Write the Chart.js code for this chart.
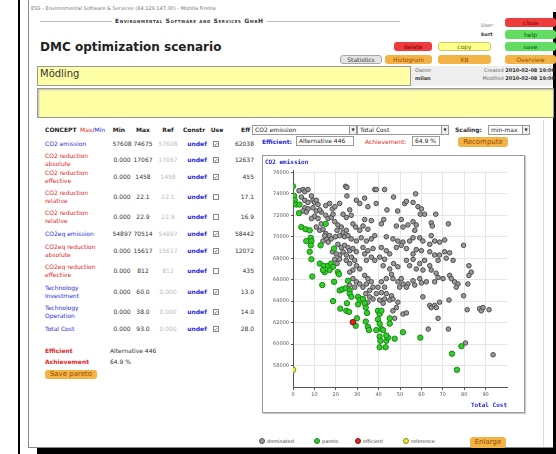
<!DOCTYPE html>
<html>
<head>
<meta charset="utf-8">
<title>DMC optimization scenario</title>
<script src="https://cdn.jsdelivr.net/npm/chart.js@4.4.0/dist/chart.umd.min.js"></script>
<style>
body { margin: 0; width: 556px; height: 454px; background: #fff; position: relative; overflow: hidden; font-family: "DejaVu Sans", sans-serif; }
.a { position: absolute; white-space: nowrap; }
.btn { position: absolute; height: 9px; border-radius: 3px; font-size: 6px; line-height: 9px; text-align: center; }
.red { background: #ee3b3b; color: #7a0000; }
.green { background: #62dc62; color: #005a00; }
.yellow { background: #ffff8c; color: #666600; border: 1px solid #cccc66; height: 7px; line-height: 7px; }
.orange { background: #f2b347; color: #9a4a00; }
.grey { background: #e4e4e4; color: #333; border: 1px solid #aaa; height: 7px; line-height: 7px; }
.sm { font-size: 6px; }
.tiny { font-size: 5px; color: #666; }
.sel { position: absolute; height: 8px; border: 1px solid #999; background: #fff; font-size: 6px; line-height: 8px; padding-left: 2px; color: #222; }
.sel span { position: absolute; right: 0; top: 0; width: 6px; height: 8px; border-left: 1px solid #999; background: #eee; font-size: 4px; text-align: center; }
.inp { position: absolute; height: 8px; border: 1px solid #999; background: #fff; font-size: 6px; line-height: 8px; padding-left: 2px; color: #222; }
.cb { position: absolute; width: 4px; height: 4px; border: 1px solid #888; background: #fff; font-size: 5px; line-height: 4px; color: #333; text-align: center; }
.dot { position: absolute; width: 4px; height: 4px; border-radius: 50%; }
#frame { position: absolute; left: 262px; top: 155px; width: 261px; height: 256px; border: 1px solid #9a9a9a; box-shadow: 1px 1px 1px #ccc; }
</style>
</head>
<body>

<!-- scatter values: [Total Cost, CO2 emission] -->
<script>
var costTicks = [0, 10, 20, 30, 40, 50, 60, 70, 80, 90];
var emissionTicks = [58000, 60000, 62000, 64000, 66000, 68000, 70000, 72000, 74000, 76000];

var dominated = [
  [2.8,74300],[4.7,74400],[5.5,74200],[7,74400],[24.6,74700],[25.2,74600],[38.2,74400],[38.9,74400],[42.8,74400],[57.3,74000],[25.2,73800],[47,73700],
  [8.6,73800],[9.3,73400],[10.1,73200],[10.9,73400],[11.7,73000],
  [3.9,73700],[5.5,73400],[7,73200],[5.5,72700],[7,72600],[4.7,72400],[6.2,72300],
  [29.6,73400],[31.2,73100],[35,72800],[38.9,73100],[33.5,73600],
  [52.2,73100],[53,73300],[56.1,73200],[58.4,72800],[60,72600],[59.5,72100],[61.5,72100],
  [43.9,72500],[48.9,72400],[66.7,72100],
  [15.3,72900],[17.1,73100],[18.4,72600],[19.6,72800],[21.8,73100],
  [13.2,72300],[15.3,72000],[16.4,71700],[17.9,71800],[18.7,72100],
  [26.5,72500],[24.9,71800],[27.2,72000],[23.4,72100],
  [33.5,71600],[36.6,71500],[41.3,71200],[42.4,71600],
  [50.6,71600],[48.3,71000],[51.4,70900],[53.7,71100],[56.1,71400],[57.6,71100],[56.9,70600],
  [64.6,71300],[65.1,71000],[72.6,71200],
  [28,71200],[29.3,70900],[32.7,71000],[31.2,70600],[35,70700],
  [19.5,71400],[21,71100],[22.6,70900],[20.6,70600],[23.4,70400],[24.9,70600],[21.8,70100],[24.1,70000],[25.7,70100],
  [15.3,70300],[17.1,70100],[17.9,69800],[15.6,69800],[19.9,70000],
  [27.2,69800],[29.6,69600],[31.9,69900],[34.3,69600],[36.6,69800],[38.2,70100],
  [43.6,70000],[46.7,69800],[49,69600],[51.4,69500],[54.5,69600],[56.1,69900],[59.2,69900],[60.7,69600],
  [64.6,70100],[66.2,69600],[68.5,69500],[70.9,69700],[63.9,69300],[79.7,69200],
  [48.3,69000],[50.6,69200],[53,68900],[57.6,68800],[60,68700],[56.1,68400],
  [41.3,69000],[43.6,68700],[45.2,68400],[42.8,67900],[40.5,68100],
  [32.7,69000],[35,68700],[37.4,68900],[33.5,68400],[36.6,68100],[38.2,67800],[34.3,67800],
  [21,69300],[22.6,69000],[24.1,69200],[25.7,69000],[26.5,68700],[28,68900],[29.6,68600],[23.4,68600],[24.9,68300],
  [27.3,68100],[21.8,68300],[28.8,67800],[24.9,67800],[26.5,67500],[29.6,67300],[31.2,67000],[28,66900],[26.5,66700],
  [63.9,68600],[66.2,68300],[68.5,68300],[70.9,68600],[73.2,68500],[74.8,67800],[71.6,68000],[67.8,67800],
  [53,67800],[56.1,67900],[59.2,67500],[61.5,67800],[63.9,67300],[54.5,67300],[57.6,67000],[60.7,66900],[64.6,66900],[66.9,66600],
  [47,67500],[49,67200],[45.2,67000],[42.1,67300],
  [82.2,67300],[83.3,66700],[82.2,66400],
  [73.2,66400],[74,66100],[75.5,65800],[77.1,65600],[76.3,65300],
  [67.8,66200],[70.1,66100],[66.2,65800],
  [59.2,66100],[56.1,65900],[53.7,65600],[56.9,65500],[60,65700],[62.3,65800],
  [50.6,66100],[49,65800],[51.4,65600],[49.8,65300],[53,65300],
  [46,66500],[46.7,66100],[43.6,66100],[41.3,65800],[42.8,65300],[39.7,65300],
  [33.5,66400],[35,66100],[36.6,65800],[34.3,65600],[32.7,65300],[37.4,65300],[35.8,65000],
  [28,66100],[29.6,65800],[28.8,65300],[31.2,65600],[26.5,65500],
  [38.9,64700],[41.3,64800],[43.6,64700],[46,64500],[42.8,64200],[40.5,64100],[42.1,63800],[45.2,64100],[46.7,64200],
  [34,64700],[35.8,64400],[37.4,64200],[35,63900],[33.5,63800],
  [49,63900],[48.3,63400],[46.7,63100],[51.4,62800],[53,62900],[47.5,62400],
  [60.7,64400],[63.9,63600],[64.6,63400],[66.2,63600],[67,63400],[68.5,63900],
  [81.4,63200],[87.2,63300],[88,63100],[88.8,63400],[91.6,63200],
  [72.9,64100],[79.7,64500],[81.7,65600],[67.8,62400],[63.2,61400],[72.6,61400],[80.6,60100],[93.5,59000],
  [9.3,72700],[10.9,72400],[12.5,72500],[10.1,71900],[11.7,71700],[8.6,71700],[13.2,71200],[10.9,70900],[12.5,70600],[14,70700],
  [14.8,70100],[14,69600],[16.4,69500],
  [18.4,68600],[20.2,68400],[21.8,67900],[19.5,67900],[20.6,67500]
];

var pareto = [
  [0,74700],[0.5,73800],[0.8,73400],[0,73100],[1.5,73000],[3,73000],[2.8,72200],[3.9,70900],[5.9,70700],[7.8,70600],
  [8.3,69900],[8.6,69600],[8.3,69200],[6.2,69600],[7.8,68600],[8.6,67900],[12.9,69200],[15.3,71200],[19.2,68900],
  [12.5,67500],[14.3,67300],[16.4,67300],[17.9,67500],[18.7,67200],[17.1,66900],[14.8,66700],[14,66900],
  [9,66300],[13.7,65500],[19.2,65800],[21,66700],[21.5,66500],[18.7,64000],[21.8,65000],[23,65100],[24.6,65200],
  [25.7,65900],[26.5,65000],[26.5,64700],[27.3,64400],[25.2,63800],[24.9,63100],[26.2,63000],[22.1,63300],
  [30.4,64400],[31.2,64100],[30.4,63700],[32.7,64200],[33.5,63800],[34,63400],[34.6,62900],[29.9,62400],[29.3,61700],
  [34,62100],[35,61600],[35.5,61300],[39.7,63100],[40.5,62800],[41.3,63100],[39.7,62300],[40.5,61900],[38.9,61300],
  [41.3,61400],[42.1,61300],[40.5,60700],[40.8,60300],[40.5,59700],[43.3,59700],[43.6,60300],[44.4,60600],[43.6,60800],
  [45.2,61900],[45.2,62400],[47.5,60500],[51.4,61100],[59.5,60600],[74.3,59100],[76.6,57600],[78.7,59800]
];

var efficient = [[28, 62038]];
var reference = [[0, 57608]];
</script>

<!-- outer frame -->
<div class="a" style="left:18px;top:0;width:2px;height:454px;background:#000"></div>
<div class="a" style="left:553px;top:12px;width:3px;height:442px;background:#000"></div>
<div class="a" style="left:37px;top:448px;width:519px;height:6px;background:#000"></div>
<div class="a" style="left:28px;top:0;width:1px;height:448px;background:#888"></div>
<div class="a" style="left:28px;top:447px;width:525px;height:1px;background:#888"></div>

<!-- window title + header -->
<div class="a tiny" style="left:31px;top:5px;color:#777">ESS - Environmental Software &amp; Services (84.129.147.30) - Mozilla Firefox</div>
<div class="a" style="left:40px;top:21px;width:360px;height:1px;background:#bbb"></div>
<div class="a" style="left:112px;top:17px;padding:0 3px;background:#fff;font-size:6px;font-weight:bold;font-variant:small-caps;letter-spacing:0.6px;color:#333">Environmental Software and Services GmbH</div>
<div class="a tiny" style="left:481px;top:22px">User:</div>
<div class="a" style="left:481px;top:31px;font-size:5px;font-weight:bold;color:#333">kurt</div>
<div class="btn red" style="left:505px;top:18px;width:51px">close</div>
<div class="btn green" style="left:505px;top:30px;width:51px">help</div>
<div class="btn green" style="left:505px;top:42px;width:51px">save</div>
<div class="btn yellow" style="left:438px;top:42px;width:51px">copy</div>
<div class="btn red" style="left:394px;top:42px;width:38px">delete</div>
<div class="a" style="left:40px;top:40px;font-size:12px;font-weight:bold;color:#222">DMC optimization scenario</div>
<div class="btn grey" style="left:340px;top:55px;width:40px">Statistics</div>
<div class="btn orange" style="left:385px;top:55px;width:47px">Histogram</div>
<div class="btn orange" style="left:438px;top:55px;width:53px">KB</div>
<div class="btn orange" style="left:505px;top:55px;width:51px">Overview</div>

<div class="a" style="left:37px;top:66px;width:372px;height:18px;background:#ffffa6;border:1px solid #999"></div>
<div class="a" style="left:40px;top:68px;font-size:10px;color:#333">Mödling</div>
<div class="a" style="left:411px;top:66px;width:142px;height:20px;background:#eee"></div>
<div class="a tiny" style="left:415px;top:67px">Owner</div>
<div class="a" style="left:415px;top:75px;font-size:5px;font-weight:bold;color:#333">milan</div>
<div class="a tiny" style="left:470px;top:67px;width:85px;text-align:right">Created <b style="color:#333">2010-02-08 19:00</b></div>
<div class="a tiny" style="left:470px;top:75px;width:85px;text-align:right">Modified <b style="color:#333">2010-02-08 19:00</b></div>
<div class="a" style="left:37px;top:88px;width:515px;height:28px;background:#ffffa6;border:1px solid #999;box-shadow:inset 1px 1px 2px #bbb"></div>
<div class="a" style="left:543px;top:120px;width:1px;height:327px;background:#ddd"></div>

<!-- concept table -->
<div id="table"></div>
<script>
var table = document.getElementById('table');
var blue = '#2a2ad8', red = '#e02828';

function cell(left, top, width, align, text, style) {
    var d = document.createElement('div');
    d.className = 'a sm';
    d.style.left = left + 'px';
    d.style.top = top + 'px';
    d.style.width = width + 'px';
    d.style.textAlign = align;
    d.style.lineHeight = '8px';
    d.style.cssText += style || '';
    d.innerHTML = text;
    table.appendChild(d);
}

function row(cy, label, color, min, max, ref, used, eff) {
    var lines = label.split('|');
    cell(45, cy - lines.length * 4, 60, 'left', lines.join('<br>'), 'color:' + color);
    cell(107, cy - 4, 30, 'center', min, 'color:#333');
    cell(131, cy - 4, 24, 'center', max, 'color:#333');
    cell(156, cy - 4, 24, 'center', ref, 'color:#bbb');
    cell(185, cy - 4, 24, 'center', 'undef', 'color:' + blue + ';font-weight:bold');
    var cb = document.createElement('div');
    cb.className = 'cb';
    cb.style.left = '213px';
    cb.style.top = (cy - 3) + 'px';
    cb.innerHTML = used ? '&#10003;' : '';
    table.appendChild(cb);
    cell(224, cy - 4, 30, 'right', eff, 'color:#333');
}

cell(45, 126, 40, 'left', 'CONCEPT', 'font-weight:bold;color:#222');
cell(80, 126, 30, 'left', '<span style="color:' + red + '">Max</span>/<span style="color:' + blue + '">Min</span>', '');
cell(107, 126, 24, 'center', 'Min', 'font-weight:bold;color:#222');
cell(131, 126, 24, 'center', 'Max', 'font-weight:bold;color:#222');
cell(156, 126, 24, 'center', 'Ref', 'font-weight:bold;color:#222');
cell(182, 126, 24, 'center', 'Constr', 'font-weight:bold;color:#222');
cell(205, 126, 24, 'center', 'Use', 'font-weight:bold;color:#222');
cell(226, 126, 24, 'right', 'Eff', 'font-weight:bold;color:#222');

row(144, 'CO2 emission', blue, '57608', '74675', '57608', true, '62038');
row(160, 'CO2 reduction|absolute', red, '0.000', '17067', '17067', true, '12637');
row(177, 'CO2 reduction|effective', red, '0.000', '1458', '1458', true, '455');
row(197, 'CO2 reduction|relative', red, '0.000', '22.1', '22.1', false, '17.1');
row(217, 'CO2 reduction|relative', red, '0.000', '22.9', '22.9', false, '16.9');
row(234, 'CO2eq emission', blue, '54897', '70514', '54897', true, '58442');
row(251, 'CO2eq reduction|absolute', red, '0.000', '15617', '15617', true, '12072');
row(271, 'CO2eq reduction|effective', red, '0.000', '812', '812', false, '435');
row(292, 'Technology|Investment', blue, '0.000', '60.0', '0.000', true, '13.0');
row(312, 'Technology|Operation', blue, '0.000', '38.0', '0.000', true, '14.0');
row(329, 'Total Cost', blue, '0.000', '93.0', '0.000', true, '28.0');

cell(45, 347, 50, 'left', 'Efficient', 'font-weight:bold;color:' + red);
cell(110, 347, 60, 'left', 'Alternative 446', 'color:#333');
cell(45, 358, 50, 'left', 'Achievement', 'font-weight:bold;color:' + red);
cell(110, 358, 60, 'left', '64.9 %', 'color:#333');
</script>
<div class="btn orange" style="left:45px;top:370px;width:52px;font-size:7px">Save pareto</div>

<!-- chart controls -->
<div class="sel" style="left:252px;top:125px;width:101px">CO2 emission<span>&#9660;</span></div>
<div class="sel" style="left:357px;top:125px;width:88px">Total Cost<span>&#9660;</span></div>
<div class="a sm" style="left:455px;top:126px;font-weight:bold;color:#333">Scaling:</div>
<div class="sel" style="left:488px;top:125px;width:38px">min-max<span>&#9660;</span></div>
<div class="a sm" style="left:262px;top:138px;font-weight:bold;color:#2a2ad8">Efficient:</div>
<div class="inp" style="left:296px;top:136px;width:54px">Alternative 446</div>
<div class="a sm" style="left:365px;top:138px;color:#e02828">Achievement:</div>
<div class="inp" style="left:412px;top:136px;width:24px">64.9 %</div>
<div class="btn orange" style="left:458px;top:137px;width:50px;height:10px;line-height:10px;font-size:7px">Recompute</div>

<div id="frame"><canvas id="paretoChart" width="261" height="256"></canvas></div>

<!-- legend -->
<div class="dot" style="left:259px;top:438px;background:#999;border:1px solid #555"></div>
<div class="a tiny" style="left:267px;top:438px;color:#444">dominated</div>
<div class="dot" style="left:314px;top:438px;background:#33cc33;border:1px solid #118811"></div>
<div class="a tiny" style="left:322px;top:438px;color:#444">pareto</div>
<div class="dot" style="left:355px;top:438px;background:#dd2222;border:1px solid #881111"></div>
<div class="a tiny" style="left:363px;top:438px;color:#444">efficient</div>
<div class="dot" style="left:403px;top:438px;background:#eeee33;border:1px solid #888811"></div>
<div class="a tiny" style="left:411px;top:438px;color:#444">reference</div>
<div class="btn orange" style="left:470px;top:437px;width:36px;height:11px;line-height:11px;font-size:7px">Enlarge</div>

<script>
function toPoints(list) {
    return list.map(function (p) { return {x: p[0], y: p[1]}; });
}

var tickFont = {family: 'DejaVu Sans', size: 5};
var titleFont = {family: 'DejaVu Sans Mono', size: 6, weight: 'bold'};

var ctx = document.getElementById('paretoChart');
var chart = new Chart(ctx, {
    type: 'scatter',
    data: {
        datasets: [{
            label: 'dominated',
            data: toPoints(dominated),
            backgroundColor: '#9a9a9a',
            borderColor: '#4c4c4c',
            borderWidth: 1,
            pointRadius: 2.3,
            order: 4
        }, {
            label: 'pareto',
            data: toPoints(pareto),
            backgroundColor: '#35cc2c',
            borderColor: '#148a10',
            borderWidth: 1,
            pointRadius: 2.7,
            order: 3
        }, {
            label: 'efficient',
            data: toPoints(efficient),
            backgroundColor: '#dd2222',
            borderColor: '#881111',
            borderWidth: 1,
            pointRadius: 2.8,
            order: 2
        }, {
            label: 'reference',
            data: toPoints(reference),
            backgroundColor: '#eeee33',
            borderColor: '#888811',
            borderWidth: 1,
            pointRadius: 2.8,
            order: 1
        }]
    },
    options: {
        responsive: false,
        animation: false,
        devicePixelRatio: 1,
        layout: {padding: {left: 2, right: 17, top: 0, bottom: 0}},
        plugins: {
            legend: {display: false},
            tooltip: {enabled: false},
            title: {
                display: true,
                text: 'CO2 emission',
                align: 'start',
                color: '#2424d8',
                font: titleFont,
                padding: {top: 3, bottom: 4}
            }
        },
        scales: {
            x: {
                type: 'linear',
                min: 0,
                max: 100,
                afterBuildTicks: function (scale) {
                    scale.ticks = costTicks.map(function (v) { return {value: v}; });
                },
                afterFit: function (scale) { scale.height = 25; },
                grid: {color: '#e6e6e6', tickColor: '#555', tickLength: 3},
                border: {color: '#555'},
                ticks: {
                    font: tickFont, color: '#555', padding: 2, maxRotation: 0,
                    callback: function (v) { return String(v); }
                },
                title: {
                    display: true,
                    text: 'Total Cost',
                    align: 'end',
                    color: '#2424d8',
                    font: titleFont,
                    padding: {top: 0, bottom: 3}
                }
            },
            y: {
                type: 'linear',
                min: 56000,
                max: 76200,
                afterBuildTicks: function (scale) {
                    scale.ticks = emissionTicks.map(function (v) { return {value: v}; });
                },
                afterFit: function (scale) { scale.width = 28; },
                grid: {color: '#e6e6e6', tickColor: '#555', tickLength: 2},
                border: {color: '#555'},
                ticks: {
                    font: tickFont, color: '#555', padding: 2,
                    callback: function (v) { return String(v); }
                }
            }
        }
    }
});
</script>
</body>
</html>
